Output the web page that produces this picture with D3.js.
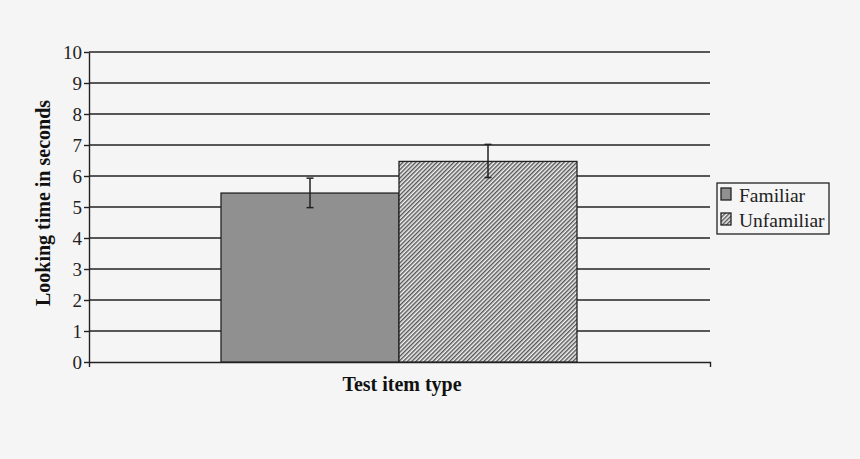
<!DOCTYPE html>
<html><head><meta charset="utf-8">
<script src="https://cdn.jsdelivr.net/npm/d3@7"></script>
<style>body{margin:0;background:#f5f5f5;}svg{display:block;} svg text{font-family:"Liberation Serif","DejaVu Serif",serif !important;}</style>
</head><body><svg id="c" width="860" height="459"></svg>
<script>
const categories = ["Familiar", "Unfamiliar"];
const values = [5.45, 6.47];
const errLow = [4.98, 5.95];
const errHigh = [5.93, 7.02];
const yTicks = [0,1,2,3,4,5,6,7,8,9,10];

(function(){
const svg = d3.select("#c");
svg.append("rect").attr("width",860).attr("height",459).attr("fill","#f5f5f5");

const defs = svg.append("defs");
const pat = defs.append("pattern").attr("id","hatch").attr("patternUnits","userSpaceOnUse")
  .attr("width",3).attr("height",3).attr("patternTransform","rotate(45)");
pat.append("rect").attr("width",3).attr("height",3).attr("fill","#f4f4f4");
pat.append("line").attr("x1",0.75).attr("y1",0).attr("x2",0.75).attr("y2",3).attr("stroke","#444").attr("stroke-width",1.3);

const pl = 89, pr = 710, pt = 52, pb = 362;
const y = d3.scaleLinear().domain([0,10]).range([pb, pt]);
const outer = d3.scaleBand().domain(["Test item type"]).range([pl, pr]).paddingInner(0).paddingOuter(0);
const x = d3.scaleBand().domain(categories).range([221, 577]).padding(0);

// gridlines
svg.append("g").selectAll("line").data(yTicks.filter(d=>d>0)).join("line")
  .attr("x1",pl).attr("x2",pr).attr("y1",d=>y(d)).attr("y2",d=>y(d))
  .attr("stroke","#222").attr("stroke-width",1.4);

// y axis
const ya = svg.append("g").attr("transform",`translate(${pl},0)`)
  .call(d3.axisLeft(y).tickValues(yTicks).tickSize(5).tickSizeOuter(0).tickFormat(d3.format("d")));
ya.select(".domain").attr("stroke","#222").attr("stroke-width",1.4);
ya.selectAll(".tick line").attr("stroke","#222").attr("stroke-width",1.4);
ya.selectAll(".tick text").attr("font-size",19).attr("fill","#222").attr("x",-7);

// x axis
const xa = svg.append("g").attr("transform",`translate(0,${pb})`)
  .call(d3.axisBottom(outer).tickValues([]).tickSizeOuter(5));
xa.select(".domain").attr("stroke","#222").attr("stroke-width",1.4);

// bars
svg.append("g").selectAll("rect").data(categories).join("rect")
  .attr("x",d=>x(d)).attr("width",x.bandwidth())
  .attr("y",(d,i)=>y(values[i])).attr("height",(d,i)=>y(0)-y(values[i]))
  .attr("fill",(d,i)=>i===0?"#909090":"url(#hatch)")
  .attr("stroke","#222").attr("stroke-width",1.3);

// error bars
const eb = svg.append("g").attr("stroke","#222").attr("stroke-width",1.5);
categories.forEach((c,i)=>{
  const cx = x(c)+x.bandwidth()/2;
  eb.append("line").attr("x1",cx).attr("x2",cx).attr("y1",y(errLow[i])).attr("y2",y(errHigh[i]));
  eb.append("line").attr("x1",cx-3.5).attr("x2",cx+3.5).attr("y1",y(errLow[i])).attr("y2",y(errLow[i]));
  eb.append("line").attr("x1",cx-3.5).attr("x2",cx+3.5).attr("y1",y(errHigh[i])).attr("y2",y(errHigh[i]));
});

// axis labels
svg.append("text").attr("x",402).attr("y",391).attr("text-anchor","middle")
  .attr("font-weight","bold").attr("font-size",20).attr("fill","#111").text("Test item type");
svg.append("text").attr("transform",`translate(50,203) rotate(-90)`).attr("text-anchor","middle")
  .attr("font-weight","bold").attr("font-size",20).attr("fill","#111").text("Looking time in seconds");

// legend
const lg = svg.append("g");
lg.append("rect").attr("x",717).attr("y",183).attr("width",112).attr("height",51)
  .attr("fill","#f5f5f5").attr("stroke","#222").attr("stroke-width",1.3);
categories.forEach((c,i)=>{
  const yy = 188 + i*25;
  lg.append("rect").attr("x",721).attr("y",yy).attr("width",10).attr("height",12)
    .attr("fill",i===0?"#909090":"url(#hatch)").attr("stroke","#222").attr("stroke-width",1.3);
  lg.append("text").attr("x",739).attr("y",yy+14).attr("font-size",19.5)
    .attr("fill","#222").text(c);
});
})();
</script></body></html>
